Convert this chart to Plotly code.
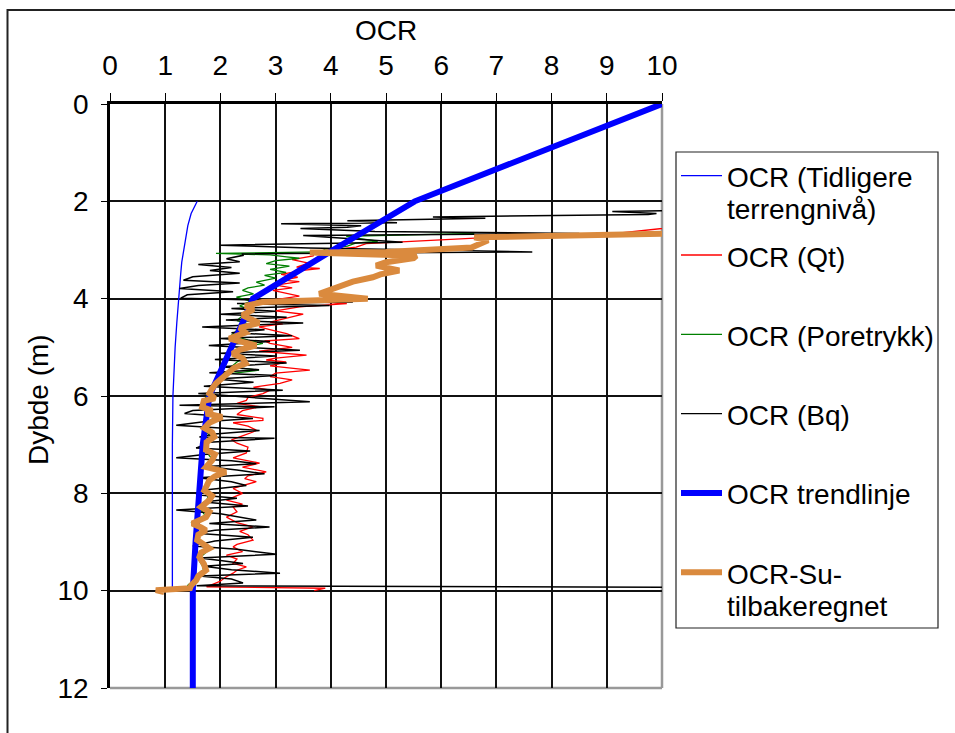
import plotly.graph_objects as go

# ---------------- data ----------------
series_names = [
    "OCR (Tidligere\nterrengnivå)",
    "OCR (Qt)",
    "OCR (Poretrykk)",
    "OCR (Bq)",
    "OCR trendlinje",
    "OCR-Su-\ntilbakeregnet",
]

# OCR from former terrain level
tidl_depth = [2.0, 2.1, 2.25, 2.5, 2.75, 3.0, 3.25, 3.5, 3.75, 4.0, 4.5, 5.0, 5.5, 6.0, 7.0, 8.0, 9.0, 10.0]
tidl_ocr = [1.58, 1.53, 1.47, 1.41, 1.37, 1.33, 1.30, 1.28, 1.26, 1.24, 1.21, 1.18, 1.16, 1.14, 1.13, 1.13, 1.13, 1.13]

# OCR from cone resistance (Qt)
qt_depth = [2.51, 2.68, 2.74, 2.80, 2.84, 2.87, 2.94, 3.00, 3.05, 3.12, 3.20, 3.27, 3.35, 3.38, 3.42,
            3.50, 3.56, 3.62, 3.65, 3.72, 3.78, 3.83, 3.90, 3.95, 4.02, 4.10, 4.17, 4.25, 4.32, 4.38,
            4.48, 4.52, 4.58, 4.65, 4.72, 4.82, 4.87, 4.92, 5.00, 5.08, 5.16, 5.22, 5.26, 5.30, 5.38,
            5.47, 5.53, 5.60, 5.67, 5.74, 5.82, 5.88, 5.95, 6.03, 6.09, 6.15, 6.22, 6.30, 6.38, 6.46,
            6.50, 6.55, 6.62, 6.70, 6.74, 6.82, 6.90, 6.97, 7.05, 7.17, 7.27, 7.38, 7.46, 7.56, 7.64,
            7.70, 7.76, 7.90, 8.00, 8.14, 8.22, 8.28, 8.38, 8.49, 8.60, 8.69, 8.78, 8.85, 8.96, 9.05,
            9.10, 9.20, 9.27, 9.35, 9.44, 9.51, 9.58, 9.64, 9.72, 9.81, 9.92, 9.95, 10.00]
qt_ocr = [10.4, 9.0, 6.88, 6.0, 5.19, 4.64, 4.46, 4.0, 3.7, 3.68, 3.3, 3.6, 3.38, 3.8, 3.49,
          3.1, 3.4, 3.13, 3.43, 3.0, 3.3, 2.95, 3.2, 3.43, 3.0, 4.29, 3.43, 3.0, 3.5, 3.26,
          2.9, 3.13, 2.7, 2.95, 3.2, 3.43, 2.8, 2.9, 3.3, 2.7, 3.56, 3.0, 2.83, 3.19, 2.9,
          3.62, 3.0, 2.9, 3.3, 3.08, 2.6, 2.9, 2.77, 2.5, 2.47, 2.3, 2.71, 2.4, 2.3, 2.77,
          2.77, 2.23, 2.5, 2.65, 2.59, 2.4, 2.2, 2.3, 2.5, 2.47, 2.23, 2.71, 2.4, 2.83, 2.5,
          2.44, 2.65, 2.23, 2.4, 2.11, 2.4, 2.23, 2.3, 2.11, 2.3, 2.59, 2.35, 2.5, 2.59, 2.3,
          2.23, 2.4, 2.11, 2.3, 2.23, 2.47, 2.3, 2.23, 2.1, 1.99, 1.75, 3.9, 3.7]

# OCR from pore pressure
pore_depth = [2.66, 2.69, 2.72, 2.76, 2.82, 2.86, 2.92, 2.98, 3.04, 3.07, 3.10, 3.14, 3.17, 3.22, 3.28,
              3.33, 3.40, 3.46, 3.52, 3.58, 3.66, 3.72, 3.78, 3.83, 3.90, 3.97, 4.05, 4.15, 4.25, 4.35,
              4.45, 4.55, 4.65, 4.75, 4.85, 4.92, 5.00, 5.10, 5.20, 5.30, 5.40, 5.47, 5.55, 5.65, 5.75,
              5.85, 5.95, 6.10, 6.25, 6.40, 6.55, 6.70, 6.85, 7.00, 7.15, 7.30, 7.45, 7.55, 7.70, 7.85,
              8.00, 8.15, 8.30, 8.45, 8.60, 8.75, 8.90, 9.05, 9.20, 9.35, 9.50, 9.65, 9.80, 9.90]
pore_ocr = [6.6, 5.6, 4.28, 4.5, 4.85, 4.45, 4.3, 3.9, 3.8, 1.92, 2.9, 3.2, 3.43, 3.0, 2.83,
            3.25, 2.9, 3.19, 2.8, 3.0, 2.65, 2.8, 2.5, 2.4, 2.6, 2.29, 2.55, 2.35, 2.6, 2.4,
            2.3, 2.6, 2.3, 2.2, 2.5, 2.77, 2.4, 2.2, 2.45, 2.3, 2.2, 2.7, 2.1, 2.0, 1.9,
            1.85, 1.78, 1.7, 1.65, 1.95, 1.75, 1.7, 1.85, 1.72, 1.75, 1.85, 1.7, 2.05, 1.78, 1.72,
            1.8, 1.75, 1.62, 1.72, 1.47, 1.7, 1.6, 1.68, 1.75, 1.6, 1.68, 1.7, 1.5, 1.4]

# OCR from pore pressure ratio Bq
bq_depth = [2.18, 2.21, 2.25, 2.27, 2.32, 2.35, 2.40, 2.44, 2.46, 2.50, 2.53, 2.56, 2.62, 2.66, 2.70,
            2.78, 2.84, 2.90, 2.96, 3.04, 3.08, 3.11, 3.18, 3.24, 3.30, 3.36, 3.42, 3.48, 3.55, 3.62,
            3.68, 3.73, 3.79, 3.86, 3.92, 3.99, 4.02, 4.07, 4.10, 4.14, 4.20, 4.26, 4.32, 4.38, 4.44,
            4.50, 4.58, 4.64, 4.70, 4.76, 4.82, 4.88, 4.96, 5.01, 5.06, 5.12, 5.18, 5.25, 5.32, 5.40,
            5.46, 5.52, 5.58, 5.65, 5.72, 5.80, 5.88, 5.95, 6.02, 6.12, 6.19, 6.22, 6.30, 6.36, 6.46,
            6.53, 6.60, 6.71, 6.78, 6.84, 6.87, 6.95, 7.07, 7.13, 7.20, 7.27, 7.33, 7.39, 7.45, 7.52,
            7.60, 7.68, 7.76, 7.84, 7.92, 8.03, 8.10, 8.18, 8.26, 8.34, 8.42, 8.55, 8.62, 8.69, 8.76,
            8.82, 8.90, 8.98, 9.08, 9.15, 9.25, 9.33, 9.38, 9.44, 9.50, 9.57, 9.64, 9.70, 9.76, 9.84,
            9.90, 9.93]
bq_ocr = [10.6, 9.1, 9.9, 9.75, 5.85, 6.8, 4.3, 5.2, 3.1, 4.55, 4.3, 3.45, 4.8, 8.5, 3.5,
          4.6, 5.3, 2.0, 3.6, 7.65, 2.4, 2.41, 2.11, 2.35, 1.6, 2.2, 1.81, 2.35, 1.5, 1.33,
          2.35, 1.6, 1.26, 2.23, 1.4, 1.28, 2.6, 4.4, 2.3, 3.98, 2.2, 3.0, 2.0, 3.2, 2.1,
          3.5, 1.67, 2.8, 2.2, 3.3, 2.0, 2.9, 1.79, 2.6, 3.44, 2.0, 3.0, 1.9, 3.2, 2.0,
          2.7, 1.8, 3.0, 1.9, 2.6, 1.7, 3.13, 1.6, 2.5, 3.62, 1.26, 2.98, 1.5, 1.35, 2.59,
          1.7, 1.2, 2.71, 1.9, 1.62, 2.98, 1.8, 1.56, 2.54, 1.7, 1.2, 2.2, 2.65, 1.75, 2.3,
          2.8, 1.6, 2.2, 2.47, 1.8, 1.56, 2.3, 1.7, 2.5, 1.2, 2.0, 2.65, 1.8, 2.89, 1.9,
          1.56, 2.59, 1.9, 1.5, 2.3, 3.02, 1.62, 2.0, 2.41, 1.7, 2.2, 3.08, 1.62, 2.2, 2.41,
          1.57, 10.6]

# Trend line
trend_depth = [0, 2, 3, 4, 4.5, 5, 5.5, 6, 7, 8, 9, 10, 12]
trend_ocr = [10, 5.52, 4.04, 2.59, 2.4, 2.2, 2.0, 1.8, 1.68, 1.61, 1.55, 1.5, 1.5]

# OCR back-calculated from Su
su_depth = [2.66, 2.70, 2.74, 2.80, 2.95, 3.04, 3.05, 3.08, 3.12, 3.17, 3.25, 3.32, 3.42, 3.50, 3.56,
            3.65, 3.79, 3.90, 4.00, 4.07, 4.15, 4.22, 4.34, 4.42, 4.50, 4.60, 4.70, 4.82, 4.90, 4.96,
            5.05, 5.13, 5.22, 5.33, 5.42, 5.51, 5.60, 5.74, 5.85, 5.95, 6.05, 6.10, 6.23, 6.30, 6.36,
            6.43, 6.55, 6.66, 6.75, 6.84, 6.95, 7.11, 7.20, 7.32, 7.46, 7.56, 7.65, 7.73, 7.85, 7.94,
            8.05, 8.14, 8.28, 8.38, 8.49, 8.62, 8.70, 8.76, 8.85, 8.96, 9.05, 9.13, 9.22, 9.31, 9.45,
            9.58, 9.70, 9.79, 9.89, 9.95, 9.99, 10.03]
su_ocr = [10.2, 7.5, 6.6, 6.85, 6.55, 5.0, 3.62, 4.5, 5.55, 5.5, 5.0, 4.82, 5.24, 4.9, 4.76,
          4.4, 4.03, 3.79, 4.67, 2.76, 2.45, 2.6, 2.4, 2.55, 2.7, 2.35, 2.45, 2.16, 2.5, 2.65,
          2.35, 2.22, 2.4, 2.46, 2.25, 2.16, 2.05, 1.92, 1.85, 1.8, 1.9, 1.7, 1.67, 1.85, 1.74,
          2.03, 1.8, 1.71, 1.85, 1.89, 1.75, 1.74, 1.9, 1.85, 1.74, 2.1, 1.9, 1.8, 1.75, 1.71,
          1.85, 1.8, 1.65, 1.8, 1.74, 1.49, 1.65, 1.74, 1.6, 1.58, 1.7, 1.8, 1.65, 1.62, 1.7,
          1.74, 1.6, 1.56, 1.47, 1.45, 0.83, 0.98]

x_ticks = list(range(0, 11))
y_ticks = list(range(0, 13, 2))
x_title = "OCR"
y_title = "Dybde (m)"

# ---------------- styling ----------------
FONT = "Liberation Sans, Arial, sans-serif"
FS = 28
W, H = 955, 733
ML, MR, MT, MB = 110, 293, 104, 45
PW, PH = W - ML - MR, H - MT - MB


def px(x):
    return (x - ML) / PW


def py(y):
    return (H - MB - y) / PH


styles = [
    dict(color="#0000FF", width=1.3),
    dict(color="#FF0000", width=1.3),
    dict(color="#008000", width=1.3),
    dict(color="#000000", width=1.5),
    dict(color="#0000FF", width=6),
    dict(color="#DA8A3E", width=6),
]
data = [
    (tidl_ocr, tidl_depth),
    (qt_ocr, qt_depth),
    (pore_ocr, pore_depth),
    (bq_ocr, bq_depth),
    (trend_ocr, trend_depth),
    (su_ocr, su_depth),
]

fig = go.Figure()
for name, (xs, ys), st in zip(series_names, data, styles):
    fig.add_trace(go.Scatter(x=xs, y=ys, mode="lines", name=name.replace("\n", " "),
                             line=st, showlegend=False))

fig.update_layout(
    width=W, height=H,
    margin=dict(l=ML, r=MR, t=MT, b=MB),
    paper_bgcolor="white", plot_bgcolor="white",
    font=dict(family=FONT, size=FS, color="black"),
)
fig.update_xaxes(
    side="top", range=[0, 10], tickvals=x_ticks, ticktext=[str(v) for v in x_ticks],
    showgrid=True, gridcolor="#111", gridwidth=1.5,
    showline=True, linecolor="black", linewidth=2.5,
    ticks="outside", ticklen=8, tickwidth=1.2, tickcolor="black",
    ticklabelstandoff=7,
    zeroline=False,
)
fig.update_yaxes(
    range=[12, 0], tickvals=y_ticks,
    showgrid=True, gridcolor="#111", gridwidth=1.5,
    showline=True, linecolor="black", linewidth=2.5,
    ticks="outside", ticklen=6, tickwidth=1.2, tickcolor="black",
    ticklabelstandoff=7,
    zeroline=False,
)

shapes = []
# right and bottom frame edges of the plot area
shapes.append(dict(type="line", xref="paper", yref="paper", x0=1, x1=1, y0=0, y1=1,
                   line=dict(color="#999", width=2.5), layer="between"))
shapes.append(dict(type="line", xref="paper", yref="paper", x0=0, x1=1, y0=0, y1=0,
                   line=dict(color="#999", width=2.5), layer="between"))
# outer chart border
shapes.append(dict(type="rect", xref="paper", yref="paper",
                   x0=px(7.5), x1=px(1000), y0=py(10), y1=py(800),
                   line=dict(color="#222", width=2), layer="above"))
# legend box
shapes.append(dict(type="rect", xref="paper", yref="paper",
                   x0=px(676), x1=px(938), y0=py(152), y1=py(628),
                   line=dict(color="#222", width=1.2), fillcolor="white", layer="above"))

annotations = [
    dict(xref="paper", yref="paper", x=0.5, y=py(48), xanchor="center", yanchor="bottom",
         text=x_title, showarrow=False, font=dict(family=FONT, size=FS, color="black")),
    dict(xref="paper", yref="paper", x=px(38), y=py(400), xanchor="center", yanchor="middle",
         text=y_title, textangle=-90, showarrow=False,
         font=dict(family=FONT, size=FS, color="black")),
]
row0, step = 175.7, 79.3
for i, (name, st) in enumerate(zip(series_names, styles)):
    ly = row0 + i * step
    shapes.append(dict(type="line", xref="paper", yref="paper",
                       x0=px(681), x1=px(722), y0=py(ly), y1=py(ly),
                       line=dict(color=st["color"], width=st["width"] if st["width"] > 2 else 1.3),
                       layer="above"))
    for j, part in enumerate(name.split("\n")):
        annotations.append(dict(xref="paper", yref="paper", x=px(725), y=py(ly + 2 + j * 32),
                                xanchor="left", yanchor="middle", text=part, showarrow=False,
                                font=dict(family=FONT, size=FS, color="black")))

fig.update_layout(shapes=shapes, annotations=annotations)
fig.write_html("out.html")
